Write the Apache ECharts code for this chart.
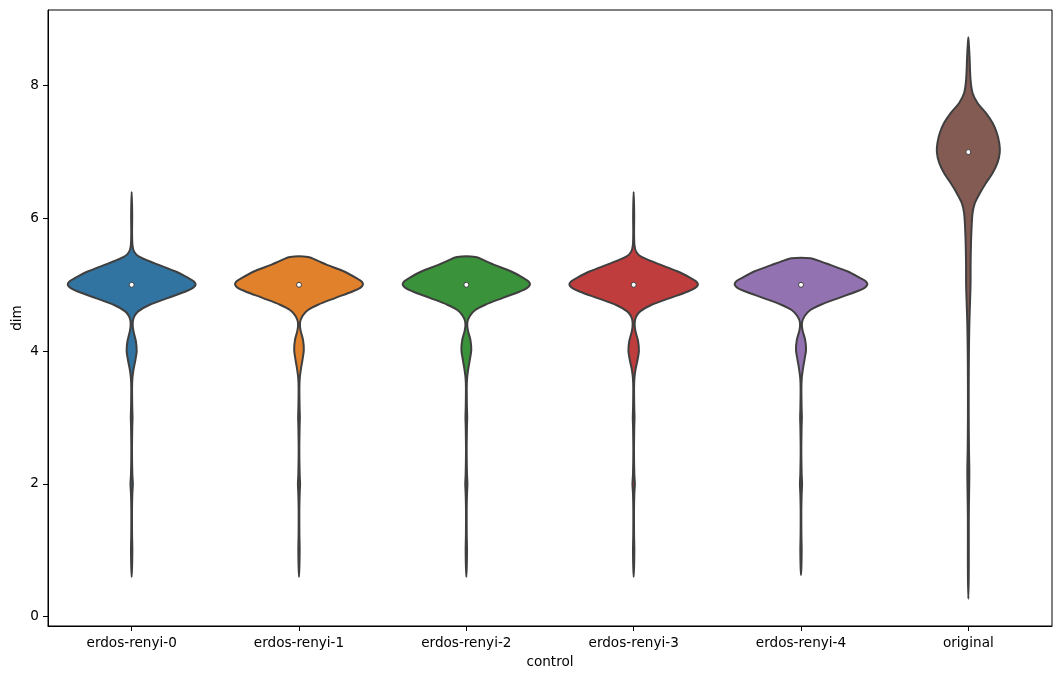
<!DOCTYPE html>
<html>
<head>
<meta charset="utf-8">
<script src="https://cdn.jsdelivr.net/npm/echarts@6/dist/echarts.min.js"></script>
<style>
html,body{margin:0;padding:0;background:#fff;}
#chart{width:1061px;height:679px;}
</style>
</head>
<body>
<div id="chart"></div>
<script>
// ---- data ----
const categories = ['erdos-renyi-0', 'erdos-renyi-1', 'erdos-renyi-2', 'erdos-renyi-3', 'erdos-renyi-4', 'original'];
const medians = [5, 5, 5, 5, 5, 7];
const yTicks = [0, 2, 4, 6, 8];

// violin outlines: value levels and relative density (1 = widest violin)
const levels0 = [0.60,0.75,1.0,1.25,1.6,1.85,2.0,2.15,2.5,2.85,3.0,3.15,3.45,3.6,3.72,3.86,4.0,4.15,4.3,4.42,4.52,4.6,4.7,4.8,4.9,4.95,5.0,5.05,5.1,5.2,5.33,5.43,5.5,5.6,5.8,6.0,6.2,6.4];
const density0 = [0,.006,.010,.006,.005,.010,.018,.010,.005,.009,.013,.009,.006,.012,.027,.054,.075,.063,.027,.015,.037,.097,.269,.537,.806,.91,.955,.93,.851,.657,.328,.104,.037,.012,.006,.008,.006,0];

const levels1 = [0.60,0.75,1.0,1.25,1.6,1.85,2.0,2.15,2.5,2.85,3.0,3.15,3.45,3.6,3.72,3.87,4.02,4.17,4.32,4.43,4.53,4.62,4.7,4.8,4.9,4.95,5.0,5.05,5.1,5.2,5.3,5.36,5.42];
const density1 = [0,.006,.010,.006,.005,.010,.016,.010,.005,.009,.013,.009,.006,.012,.027,.052,.072,.060,.022,.015,.052,.134,.284,.537,.80,.91,.955,.935,.86,.675,.418,.284,.134];

const levels2 = [0.60,0.75,1.0,1.25,1.6,1.85,2.0,2.15,2.5,2.85,3.0,3.15,3.45,3.6,3.72,3.87,4.02,4.17,4.32,4.43,4.53,4.62,4.7,4.8,4.9,4.95,5.0,5.05,5.1,5.2,5.3,5.36,5.42];
const density2 = [0,.006,.010,.006,.005,.010,.016,.010,.005,.009,.013,.009,.006,.012,.027,.052,.074,.061,.022,.015,.052,.134,.284,.537,.80,.905,.95,.93,.855,.672,.418,.284,.140];

const levels3 = [0.60,0.75,1.0,1.25,1.6,1.85,2.0,2.15,2.5,2.85,3.0,3.15,3.45,3.6,3.72,3.86,4.0,4.15,4.3,4.42,4.52,4.6,4.7,4.8,4.9,4.95,5.0,5.05,5.1,5.2,5.33,5.43,5.5,5.6,5.8,6.0,6.2,6.4];
const density3 = [0,.006,.010,.006,.005,.010,.018,.010,.005,.009,.013,.009,.006,.012,.027,.056,.078,.066,.027,.015,.037,.097,.269,.54,.81,.915,.96,.935,.855,.66,.33,.104,.037,.012,.006,.008,.006,0];

const levels4 = [0.63,0.75,1.0,1.25,1.6,1.85,2.0,2.15,2.5,2.85,3.0,3.15,3.45,3.6,3.72,3.87,4.02,4.17,4.32,4.43,4.53,4.62,4.7,4.8,4.9,4.95,5.0,5.05,5.1,5.2,5.3,5.35,5.40];
const density4 = [0,.006,.010,.006,.005,.010,.016,.010,.005,.009,.013,.009,.006,.012,.027,.052,.075,.062,.022,.015,.055,.14,.295,.56,.83,.945,.99,.97,.885,.70,.435,.30,.14];

const levels5 = [0.27,0.6,1.0,1.5,1.9,2.2,2.5,3.0,3.5,4.0,4.4,4.7,5.0,5.3,5.6,5.85,6.08,6.23,6.38,6.53,6.68,6.84,7.0,7.14,7.29,7.44,7.59,7.74,7.89,8.09,8.44,8.6,8.73];
const density5 = [0,.006,.007,.007,.012,.015,.010,.006,.006,.009,.015,.024,.033,.034,.039,.048,.063,.097,.172,.261,.361,.436,.470,.461,.425,.361,.261,.137,.063,.033,.018,.009,0];

const violins = [
  {levels: levels0, density: density0},
  {levels: levels1, density: density1},
  {levels: levels2, density: density2},
  {levels: levels3, density: density3},
  {levels: levels4, density: density4},
  {levels: levels5, density: density5}
];

const colors = ['#3274a1', '#e1812c', '#3a923a', '#c03d3e', '#9372b2', '#845b53'];
const edgeColor = '#3f3f3f';
const FONT = 'DejaVu Sans';

function renderViolin(params, api) {
  const i = params.dataIndex;
  const v = violins[i];
  const band = api.size([1, 0])[0];
  const half = band * 0.4;
  const right = [], left = [];
  for (let k = 0; k < v.levels.length; k++) {
    const p = api.coord([i, v.levels[k]]);
    const w = v.density[k] * half;
    right.push([p[0] + w, p[1]]);
    if (w > 0) left.push([p[0] - w, p[1]]);
  }
  left.reverse();
  const pts = right.concat(left);
  return {
    type: 'polygon',
    shape: {points: pts, smooth: 0.3},
    style: {fill: colors[i], stroke: edgeColor, lineWidth: 2}
  };
}

const chart = echarts.init(document.getElementById('chart'), null, {renderer: 'canvas'});
chart.setOption({
  animation: false,
  backgroundColor: '#fff',
  grid: {
    left: 48, right: 9, top: 10, bottom: 53,
    show: true, borderColor: '#000', borderWidth: 1,
    containLabel: false, outerBoundsMode: 'none'
  },
  xAxis: {
    type: 'category',
    data: categories,
    boundaryGap: true,
    axisLine: {show: true, onZero: false, lineStyle: {color: '#000', width: 1}},
    axisTick: {show: true, alignWithLabel: true, length: 5, lineStyle: {color: '#000'}},
    axisLabel: {color: '#000', fontSize: 13.6, fontFamily: FONT, margin: 10},
    splitLine: {show: false},
    name: 'control',
    nameLocation: 'middle',
    nameGap: 29,
    nameMoveOverlap: false,
    nameTextStyle: {color: '#000', fontSize: 13.6, fontFamily: FONT}
  },
  yAxis: {
    type: 'value',
    min: -0.14,
    max: 9.14,
    axisLine: {show: true, lineStyle: {color: '#000', width: 1}},
    axisTick: {show: true, length: 5, customValues: yTicks, lineStyle: {color: '#000'}},
    axisLabel: {color: '#000', fontSize: 13.6, fontFamily: FONT, margin: 9, customValues: yTicks},
    splitLine: {show: false},
    name: 'dim',
    nameLocation: 'middle',
    nameGap: 24,
    nameMoveOverlap: false,
    nameTextStyle: {color: '#000', fontSize: 13.6, fontFamily: FONT}
  },
  series: [
    {
      type: 'custom',
      renderItem: renderViolin,
      clip: false,
      data: categories.map((c, i) => [i, medians[i]]),
      z: 2
    },
    {
      type: 'scatter',
      data: medians.map((m, i) => [i, m]),
      symbol: 'circle',
      symbolSize: 5,
      itemStyle: {color: '#fff', borderColor: edgeColor, borderWidth: 1, opacity: 1},
      z: 3
    }
  ]
});
</script>
</body>
</html>
